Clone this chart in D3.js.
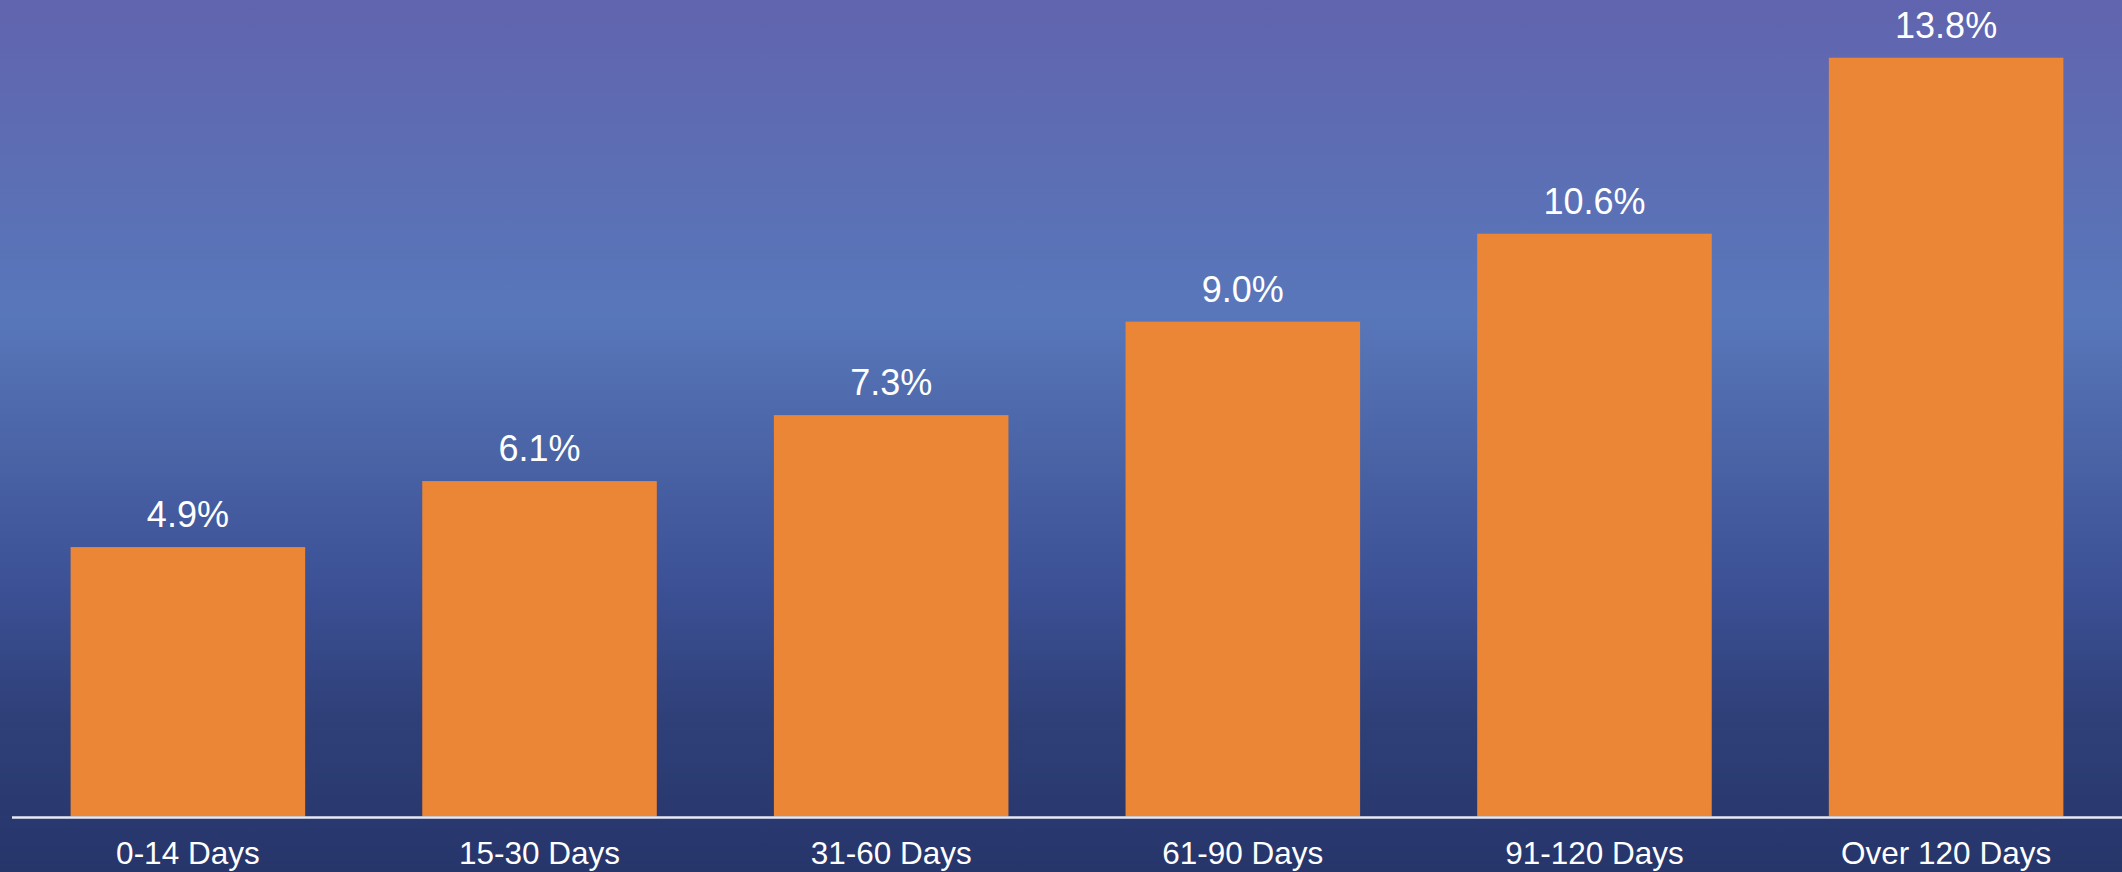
<!DOCTYPE html>
<html>
<head>
<meta charset="utf-8">
<script src="https://cdn.jsdelivr.net/npm/d3@7"></script>
<style>
  html, body { margin: 0; padding: 0; overflow: hidden; }
  svg { display: block; }
</style>
</head>
<body>
<svg id="barChar" width="2122" height="872"></svg>
<script>
// data
var categories = ["0-14 Days", "15-30 Days", "31-60 Days", "61-90 Days", "91-120 Days", "Over 120 Days"];
var values = [4.9, 6.1, 7.3, 9.0, 10.6, 13.8];
var labels = ["4.9%", "6.1%", "7.3%", "9.0%", "10.6%", "13.8%"];

var svg = d3.select("#barChar")
var width = 2122, height = 872
var margin = ({top: 0, right: 0, bottom: 55, left: 12})

// background gradient
var defs = svg.append("defs")
var grad = defs.append("linearGradient")
    .attr("id", "bg")
    .attr("x1", 0).attr("y1", 0).attr("x2", 0).attr("y2", 1)
var stops = [[0, "#6164ae"], [0.36, "#5877ba"], [0.52, "#4a64a6"], [0.67, "#3c5196"], [0.82, "#2f4079"], [1, "#26356a"]]
grad.selectAll("stop").data(stops).join("stop")
    .attr("offset", d => d[0])
    .attr("stop-color", d => d[1])

svg.append("rect")
    .attr("width", width).attr("height", height)
    .attr("fill", "url(#bg)")

var x = d3.scaleBand()
    .domain(d3.range(categories.length))
    .range([margin.left, width - margin.right])
    .paddingInner(0.333)
    .paddingOuter(0.1667)

var y = d3.scaleLinear()
    .domain([0, 14.85])
    .range([height - margin.bottom - 0.5, 0])

svg.append("g")
    .attr("fill", "#eb8637")
  .selectAll("rect")
  .data(values)
  .join("rect")
    .attr("x", (d, i) => x(i))
    .attr("y", d => y(d))
    .attr("width", x.bandwidth())
    .attr("height", d => y(0) - y(d))

// value labels
svg.append("g")
    .attr("fill", "white")
    .attr("text-anchor", "middle")
    .style("font", "36px 'Liberation Sans', Arial, sans-serif")
  .selectAll("text")
  .data(values)
  .join("text")
    .attr("x", (d, i) => x(i) + x.bandwidth() / 2)
    .attr("y", d => y(d) - 20)
    .text((d, i) => labels[i])

// x axis
var xAxis = g => g
    .attr("transform", `translate(0,${y(0) + 1})`)
    .call(d3.axisBottom(x).tickFormat(i => categories[i]).tickSize(0).tickPadding(24))
    .call(g => g.select(".domain").attr("stroke", "#e6e8f2").attr("stroke-width", 2.5).attr("d", `M${margin.left},0H${width}`))
    .call(g => g.selectAll("text").attr("fill", "white").style("font", "31.5px 'Liberation Sans', Arial, sans-serif"))

svg.append("g").call(xAxis)
</script>
</body>
</html>
